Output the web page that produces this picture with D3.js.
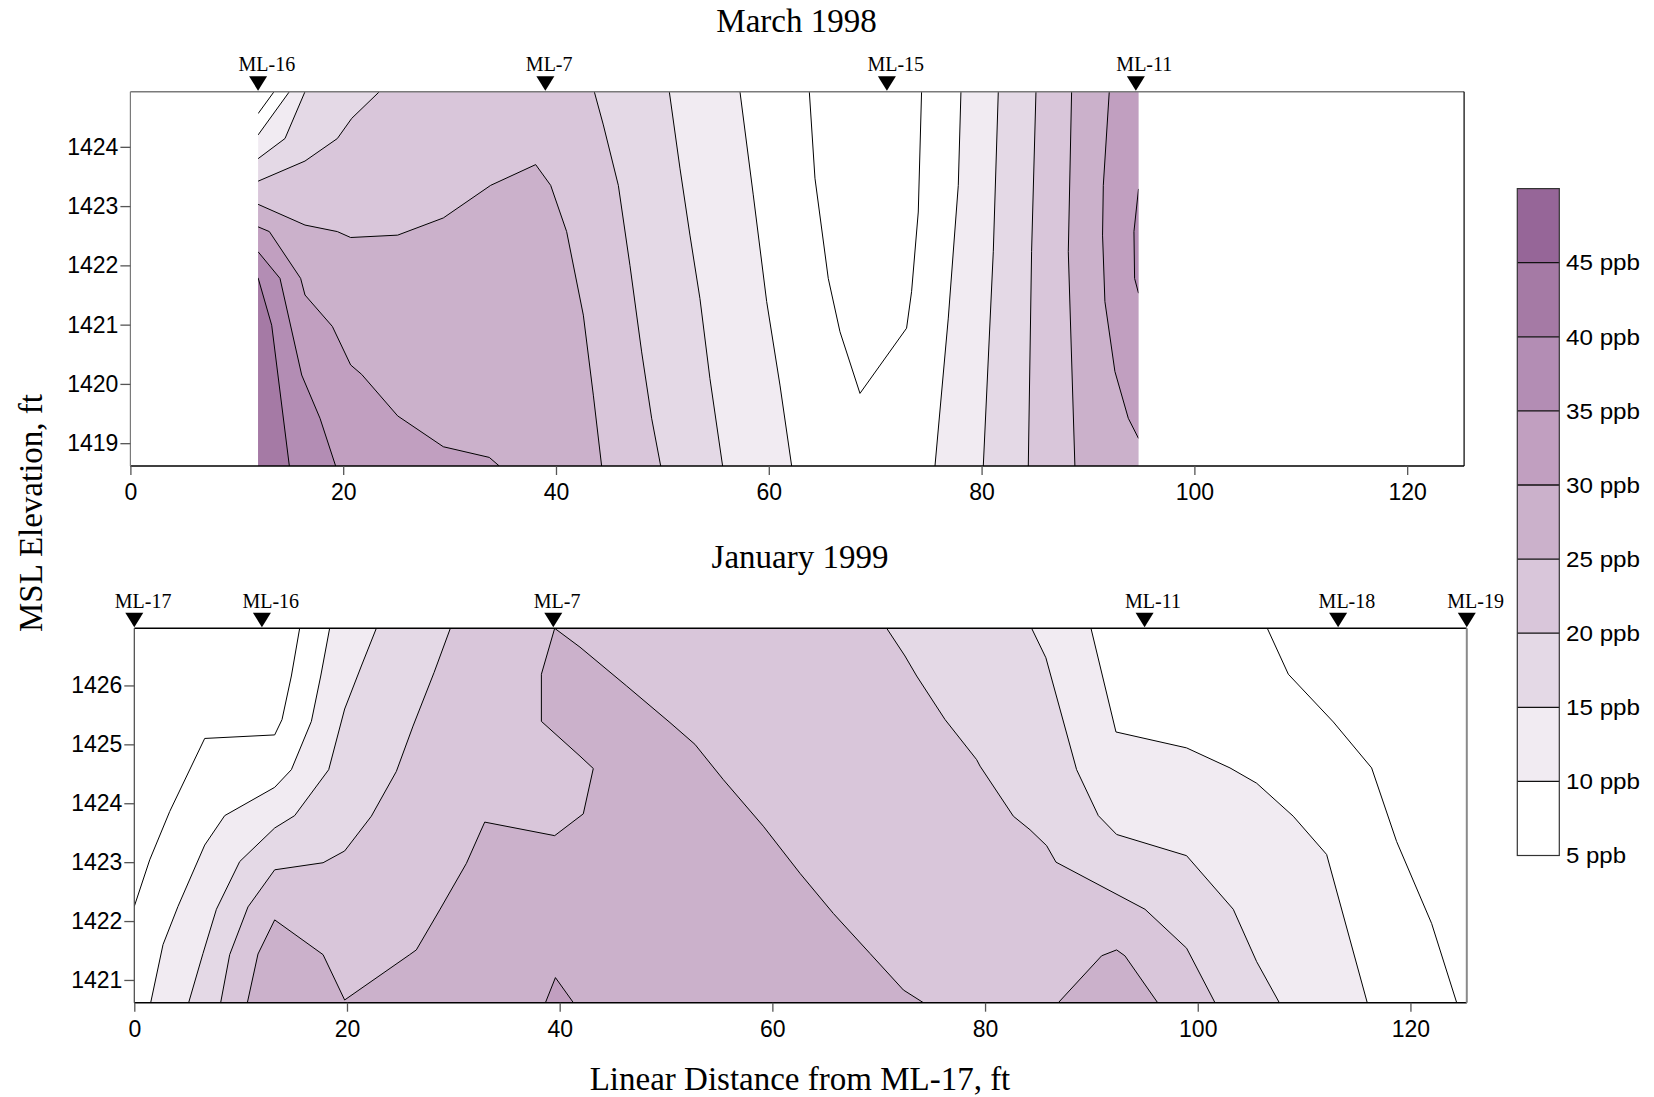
<!DOCTYPE html>
<html><head><meta charset="utf-8">
<script src="https://cdn.jsdelivr.net/npm/d3@7"></script>
<style>body{margin:0;background:#fff}</style>
</head><body>
<svg id="chart" width="1654" height="1097"></svg>
<script>
// ---------------- DATA ----------------
const bandLevels = [5, 10, 15, 20, 25, 30, 35, 40, 45, 50];
const bandColors = ["#ffffff", "#f1ebf2", "#e4d9e6", "#d9c6da", "#cbb1cb", "#c19fc0", "#b38db4", "#a57aa5", "#966698"];
const legendLabels = ["5 ppb", "10 ppb", "15 ppb", "20 ppb", "25 ppb", "30 ppb", "35 ppb", "40 ppb", "45 ppb"];
const xTicks = [0, 20, 40, 60, 80, 100, 120];
const topYTicks = [1419, 1420, 1421, 1422, 1423, 1424];
const botYTicks = [1421, 1422, 1423, 1424, 1425, 1426];
const topTitle = "March 1998";
const botTitle = "January 1999";
const xTitle = "Linear Distance from ML-17, ft";
const yTitle = "MSL Elevation, ft";

const topWells = [
  {name: "ML-16", x: 12}, {name: "ML-7", x: 39}, {name: "ML-15", x: 71.1}, {name: "ML-11", x: 94.5}
];
const botWells = [
  {name: "ML-17", x: 0}, {name: "ML-16", x: 12}, {name: "ML-7", x: 39.4},
  {name: "ML-11", x: 95}, {name: "ML-18", x: 113.2}, {name: "ML-19", x: 125.3}
];

// data extents (ft, elevation)
const topAxisX = [0, 125.35];
const topDataX = [12, 94.75];
const topDataY = [1418.615, 1424.93];
const botAxisX = [0, 125.3];
const botDataX = [0, 125.3];
const botDataY = [1420.614, 1426.97];

// contour lines: level (ppb), side that gets filled ("hi" = band above level, "lo" = band below),
// boundary corners closing the filled region, and vertices [ft, elevation]
const topContours = [
  {level: 5,  side: null, close: [], pts: [[13.50,1424.93],[12,1424.56]]},
  {level: 10, side: "hi", close: ["bl","br","tr"], pts: [[14.94,1424.93],[12,1424.20]]},
  {level: 15, side: "hi", close: ["bl","br","tr"], pts: [[16.41,1424.93],[14.53,1424.14],[12,1423.80]]},
  {level: 20, side: "hi", close: ["bl","br","tr"], pts: [[23.40,1424.93],[20.80,1424.48],[19.45,1424.14],[16.41,1423.76],[12,1423.42]]},
  {level: 25, side: "hi", close: ["bl"], pts: [[12,1423.03],[16.41,1422.68],[19.45,1422.57],[20.70,1422.47],[25.12,1422.51],[29.41,1422.80],[33.86,1423.35],[38.09,1423.70],[39.50,1423.35],[41.00,1422.57],[42.57,1421.16],[43.51,1419.81],[44.29,1418.615]]},
  {level: 30, side: "hi", close: ["bl"], pts: [[12,1422.65],[13.06,1422.57],[16.0,1421.78],[16.41,1421.50],[18.98,1420.97],[20.70,1420.32],[21.74,1420.16],[25.12,1419.46],[29.41,1418.94],[33.73,1418.76],[34.67,1418.615]]},
  {level: 35, side: "hi", close: ["bl"], pts: [[12,1422.23],[14.06,1421.78],[16.10,1420.15],[17.82,1419.42],[19.29,1418.615]]},
  {level: 40, side: "hi", close: ["bl"], pts: [[12,1421.79],[13.28,1420.99],[14.94,1418.615]]},
  {level: 20, side: "lo", close: ["br","tr"], pts: [[43.60,1424.93],[44.45,1424.37],[45.86,1423.35],[46.95,1422.00],[48.05,1420.54],[48.99,1419.42],[49.84,1418.615]]},
  {level: 15, side: "lo", close: ["br","tr"], pts: [[50.65,1424.93],[51.65,1423.64],[52.59,1422.51],[53.53,1421.44],[54.47,1420.09],[55.66,1418.615]]},
  {level: 10, side: "lo", close: ["br","tr"], pts: [[57.29,1424.93],[58.54,1423.19],[59.80,1421.39],[61.05,1419.98],[62.15,1418.615]]},
  {level: 5,  side: null, close: [], pts: [[63.81,1424.93],[64.34,1423.47],[65.59,1421.78],[66.69,1420.88],[68.57,1419.84],[72.95,1420.94],[73.42,1421.555],[74.05,1422.90],[74.36,1424.93]]},
  {level: 10, side: "hi", close: ["br","tr"], pts: [[78.06,1424.93],[77.81,1423.35],[76.87,1421.11],[75.62,1418.615]]},
  {level: 15, side: "hi", close: ["br","tr"], pts: [[81.57,1424.93],[81.10,1422.23],[80.16,1418.615]]},
  {level: 20, side: "hi", close: ["br","tr"], pts: [[85.11,1424.93],[84.70,1422.23],[84.39,1418.615]]},
  {level: 25, side: "hi", close: ["br","tr"], pts: [[88.46,1424.93],[88.15,1422.23],[88.77,1418.615]]},
  {level: 30, side: "hi", close: ["tr"], pts: [[92.00,1424.93],[91.44,1423.35],[91.37,1422.51],[91.59,1421.39],[92.53,1420.21],[93.79,1419.42],[94.75,1419.08]]},
  {level: 35, side: "hi", close: [], pts: [[94.75,1423.29],[94.32,1422.57],[94.38,1421.78],[94.75,1421.53]]}
];

const botContours = [
  {level: 5,  side: null, close: [], pts: [[0,1422.25],[1.45,1423.04],[3.33,1423.86],[6.62,1425.10],[13.20,1425.16],[13.89,1425.42],[14.77,1426.16],[15.55,1426.97]]},
  {level: 10, side: "hi", close: ["tr","br"], pts: [[1.54,1420.614],[2.70,1421.60],[4.11,1422.25],[6.62,1423.29],[8.50,1423.79],[13.20,1424.27],[14.77,1424.57],[16.65,1425.39],[17.53,1426.16],[18.37,1426.97]]},
  {level: 15, side: "hi", close: ["tr","br"], pts: [[5.11,1420.614],[6.46,1421.45],[7.72,1422.20],[9.91,1423.01],[13.20,1423.58],[15.08,1423.79],[18.28,1424.57],[19.78,1425.60],[21.35,1426.33],[22.76,1426.97]]},
  {level: 20, side: "hi", close: ["tr","br"], pts: [[8.12,1420.614],[8.97,1421.43],[10.69,1422.24],[13.20,1422.87],[17.75,1422.99],[19.78,1423.19],[22.29,1423.78],[24.64,1424.54],[26.21,1425.31],[28.19,1426.22],[29.72,1426.97]]},
  {level: 20, side: "lo", close: ["br","tr"], pts: [[70.75,1426.97],[72.47,1426.50],[73.57,1426.16],[76.24,1425.42],[79.21,1424.74],[79.53,1424.63],[82.66,1423.78],[84.23,1423.55],[85.79,1423.28],[86.67,1423.00],[95.04,1422.20],[98.95,1421.54],[101.62,1420.614]]},
  {level: 15, side: "lo", close: ["br","tr"], pts: [[84.38,1426.97],[85.72,1426.47],[88.61,1424.57],[90.65,1423.79],[92.37,1423.47],[98.95,1423.11],[103.34,1422.20],[105.54,1421.31],[107.67,1420.614]]},
  {level: 10, side: "lo", close: ["br","tr"], pts: [[89.96,1426.97],[92.31,1425.21],[98.95,1424.94],[103.03,1424.60],[105.54,1424.34],[108.98,1423.78],[112.12,1423.13],[115.94,1420.614]]},
  {level: 5,  side: null, close: [], pts: [[106.54,1426.97],[108.52,1426.19],[112.75,1425.38],[116.35,1424.60],[118.70,1423.35],[121.99,1421.96],[124.35,1420.614]]},
  {level: 25, side: "hi", close: [], pts: [[10.63,1420.614],[11.63,1421.44],[13.20,1422.02],[17.75,1421.43],[19.78,1420.66],[25.90,1421.43],[26.52,1421.51],[28.72,1422.19],[31.23,1422.98],[32.95,1423.68],[39.53,1423.45],[42.22,1423.82],[43.16,1424.59],[41.91,1424.80],[38.28,1425.39],[38.28,1426.19],[39.53,1426.97],[41.91,1426.65],[46.30,1425.99],[50.37,1425.37],[52.72,1425.00],[55.39,1424.40],[59.15,1423.61],[62.60,1422.81],[65.73,1422.13],[69.18,1421.45],[72.32,1420.83],[74.20,1420.614]]},
  {level: 25, side: "hi", close: [], pts: [[86.89,1420.614],[90.96,1421.41],[92.37,1421.51],[93.15,1421.41],[96.23,1420.614]]},
  {level: 30, side: "hi", close: [], pts: [[38.66,1420.614],[39.60,1421.04],[41.29,1420.614]]}
];

// ---------------- DRAWING ----------------
const svg = d3.select("#chart");
const SERIF = "'Liberation Serif', 'Times New Roman', serif";
const SANS = "'Liberation Sans', Arial, sans-serif";

function bandColor(c) {
  const i = bandLevels.indexOf(c.level);
  return c.side === "hi" ? bandColors[i] : bandColors[i - 1];
}

function drawPlot(opt) {
  const {x, y, dataX, dataY, contours, wells, yTicks, title, titleX, titleY, id, frame} = opt;
  const g = svg.append("g");
  const [xr0, xr1] = x.range();
  const [yr0, yr1] = y.range(); // bottom, top

  g.append("clipPath").attr("id", id).append("rect")
    .attr("x", x(dataX[0])).attr("y", y(dataY[1]))
    .attr("width", x(dataX[1]) - x(dataX[0])).attr("height", y(dataY[0]) - y(dataY[1]));

  const cg = g.append("g").attr("clip-path", `url(#${id})`);
  cg.append("rect")
    .attr("x", x(dataX[0])).attr("y", y(dataY[1]))
    .attr("width", x(dataX[1]) - x(dataX[0])).attr("height", y(dataY[0]) - y(dataY[1]))
    .attr("fill", bandColors[0]);

  const corners = {bl: [dataX[0], dataY[0]], br: [dataX[1], dataY[0]], tr: [dataX[1], dataY[1]], tl: [dataX[0], dataY[1]]};
  const line = d3.line().x(d => x(d[0])).y(d => y(d[1]));

  contours.filter(c => c.side).forEach(c => {
    const pts = c.pts.concat(c.close.map(k => corners[k]));
    cg.append("path").attr("d", line(pts) + "Z").attr("fill", bandColor(c)).attr("stroke", "none");
  });
  contours.forEach(c => {
    cg.append("path").attr("d", line(c.pts)).attr("fill", "none")
      .attr("stroke", "#000").attr("stroke-width", 1).attr("stroke-linejoin", "miter");
  });

  // frame
  g.append("line").attr("x1", xr0).attr("x2", xr1).attr("y1", yr1).attr("y2", yr1)
    .attr("stroke", frame.top).attr("stroke-width", 1.6);
  g.append("line").attr("x1", xr0).attr("x2", xr1).attr("y1", yr0).attr("y2", yr0)
    .attr("stroke", "#000").attr("stroke-width", 1.4);
  g.append("line").attr("x1", xr0).attr("x2", xr0).attr("y1", yr1).attr("y2", yr0)
    .attr("stroke", frame.left).attr("stroke-width", 1.2);
  g.append("line").attr("x1", xr1).attr("x2", xr1).attr("y1", yr1).attr("y2", yr0)
    .attr("stroke", frame.right).attr("stroke-width", frame.rightW);

  // axes
  const xa = g.append("g").attr("transform", `translate(0,${yr0})`)
    .call(d3.axisBottom(x).tickValues(xTicks).tickSize(9).tickPadding(9).tickFormat(d3.format("d")));
  const ya = g.append("g").attr("transform", `translate(${xr0},0)`)
    .call(d3.axisLeft(y).tickValues(yTicks).tickSize(10).tickPadding(2).tickFormat(d3.format("d")));
  [xa, ya].forEach(a => {
    a.select(".domain").remove();
    a.selectAll(".tick line").attr("stroke", "#555").attr("stroke-width", 1.3);
    a.selectAll(".tick text").attr("font-family", SANS).attr("font-size", 23).attr("fill", "#000");
  });

  // wells
  const wg = g.selectAll(".well").data(wells).join("g")
    .attr("transform", d => `translate(${x(d.x)},${yr1})`);
  wg.append("path").attr("d", "M-9,-15.5L9,-15.5L0,-1Z").attr("fill", "#000");
  wg.append("text").attr("x", -19.5).attr("y", -20.5).text(d => d.name)
    .attr("font-family", SERIF).attr("font-size", 20).attr("fill", "#000");

  svg.append("text").attr("x", titleX).attr("y", titleY).attr("text-anchor", "middle")
    .attr("font-family", SERIF).attr("font-size", 33).text(title);
}

const xTop = d3.scaleLinear().domain(topAxisX).range([130.4, 1464.1]);
const yTop = d3.scaleLinear().domain(topDataY).range([466, 91.7]);
drawPlot({x: xTop, y: yTop, dataX: topDataX, dataY: topDataY, contours: topContours, wells: topWells,
  yTicks: topYTicks, title: topTitle, titleX: 796.5, titleY: 32, id: "clipTop",
  frame: {top: "#7a7a7a", left: "#7a7a7a", right: "#000", rightW: 1.2}});

const xBot = d3.scaleLinear().domain(botAxisX).range([134.3, 1466.8]);
const yBot = d3.scaleLinear().domain(botDataY).range([1002.7, 628.3]);
drawPlot({x: xBot, y: yBot, dataX: botDataX, dataY: botDataY, contours: botContours, wells: botWells,
  yTicks: botYTicks, title: botTitle, titleX: 800, titleY: 568, id: "clipBot",
  frame: {top: "#000", left: "#444", right: "#8a8a8a", rightW: 2}});

// axis titles
svg.append("text").attr("x", 800).attr("y", 1090).attr("text-anchor", "middle")
  .attr("font-family", SERIF).attr("font-size", 33).text(xTitle);
svg.append("text").attr("transform", "translate(42,513) rotate(-90)").attr("text-anchor", "middle")
  .attr("font-family", SERIF).attr("font-size", 33).text(yTitle);

// legend
const ly = d3.scaleLinear().domain([5, 50]).range([855.5, 188.6]);
const lx0 = 1517.3, lw = 42;
const lg = svg.append("g");
lg.selectAll("rect.band").data(bandColors).join("rect").attr("class", "band")
  .attr("x", lx0).attr("width", lw)
  .attr("y", (d, i) => ly(bandLevels[i + 1]))
  .attr("height", (d, i) => ly(bandLevels[i]) - ly(bandLevels[i + 1]))
  .attr("fill", d => d);
lg.selectAll("line.sep").data(bandLevels.slice(1, -1)).join("line").attr("class", "sep")
  .attr("x1", lx0).attr("x2", lx0 + lw).attr("y1", d => ly(d)).attr("y2", d => ly(d))
  .attr("stroke", "#111").attr("stroke-width", 1.3);
lg.append("rect").attr("x", lx0).attr("y", ly(50)).attr("width", lw).attr("height", ly(5) - ly(50))
  .attr("fill", "none").attr("stroke", "#333").attr("stroke-width", 1.2);
lg.selectAll("text").data(legendLabels).join("text")
  .attr("x", 1566).attr("y", (d, i) => ly(bandLevels[i])).attr("dy", "0.35em")
  .attr("font-family", SANS).attr("font-size", 22)
  .attr("textLength", d => d.length === 5 ? 60 : 74).attr("lengthAdjust", "spacingAndGlyphs")
  .text(d => d);
</script>
</body></html>
